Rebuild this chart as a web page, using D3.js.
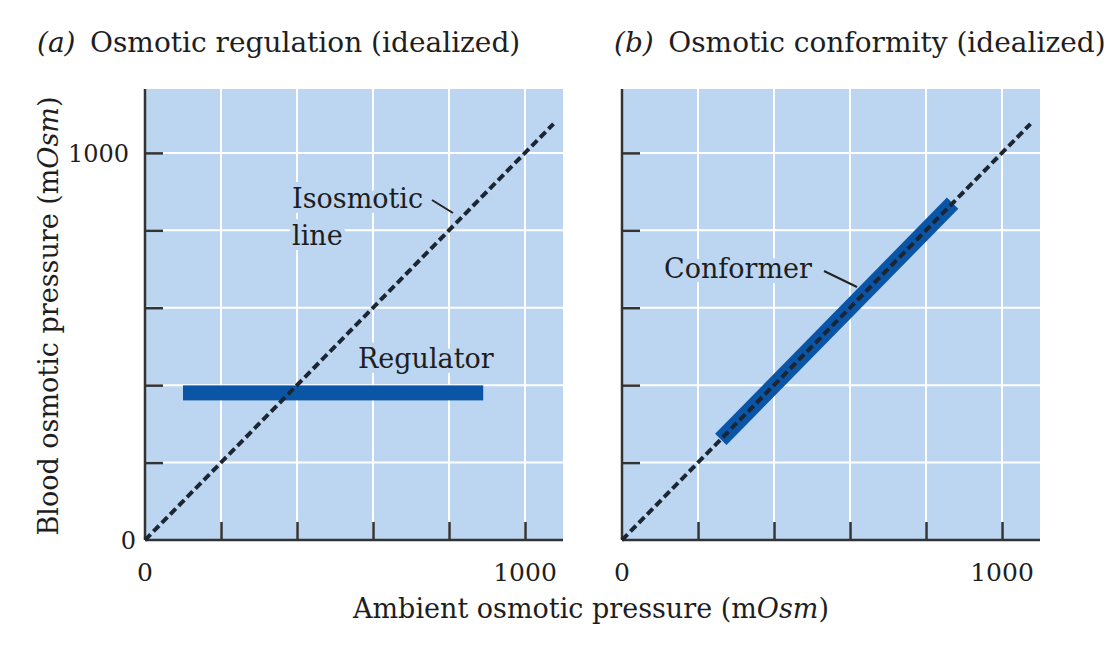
<!DOCTYPE html>
<html lang="en">
<head>
<meta charset="UTF-8">
<title>Osmotic regulation and conformity</title>
<script src="https://d3js.org/d3.v7.min.js"></script>
<style>
    body { margin: 0; background: #fff; }
    svg { display: block; }
    text { font-family: "DejaVu Serif", "Liberation Serif", serif; fill: #1e1e1e; }
</style>
</head>
<body>
<script>
// data
const gridTicks = [200, 400, 600, 800, 1000];
const tickLabels = [0, 1000];
const isosmotic = [[0, 0], [1075, 1075]];
const regulator = { x0: 100, x1: 890, y: 380 };
const conformer = [[260, 260], [870, 870]];
const titles = [["(a)", "Osmotic regulation (idealized)"], ["(b)", "Osmotic conformity (idealized)"]];

const W = 1118, H = 652;
const svg = d3.select("body").append("svg").attr("width", W).attr("height", H);

const bg = "#bcd6f1", barColor = "#0a55a6", dark = "#1c2633";
const panels = [{ left: 145, titleX: 37 }, { left: 622, titleX: 614 }];
const plotTop = 89, plotBottom = 540, pw = 418;

panels.forEach((p, i) => {
    const x = d3.scaleLinear().domain([0, 1100]).range([p.left, p.left + pw]);
    const y = d3.scaleLinear().domain([0, 1165]).range([plotBottom, plotTop]);
    const g = svg.append("g");

    g.append("rect").attr("x", x(0)).attr("y", y(1165))
        .attr("width", pw).attr("height", plotBottom - plotTop).attr("fill", bg);

    // white grid
    g.selectAll(".gx").data(gridTicks).enter().append("line")
        .attr("x1", d => x(d)).attr("x2", d => x(d)).attr("y1", plotTop).attr("y2", plotBottom)
        .attr("stroke", "#fff").attr("stroke-width", 2);
    g.selectAll(".gy").data(gridTicks).enter().append("line")
        .attr("y1", d => y(d)).attr("y2", d => y(d)).attr("x1", p.left).attr("x2", p.left + pw)
        .attr("stroke", "#fff").attr("stroke-width", 2);

    // axes with inward ticks
    const ax = d3.axisBottom(x).tickValues(gridTicks).tickSize(-18).tickFormat("");
    const ay = d3.axisLeft(y).tickValues(gridTicks).tickSize(-18).tickFormat("");
    const gxA = g.append("g").attr("transform", `translate(0,${plotBottom})`).call(ax);
    const gyA = g.append("g").attr("transform", `translate(${p.left},0)`).call(ay);
    [gxA, gyA].forEach(a => {
        a.select(".domain").remove();
        a.selectAll("line").attr("stroke", "#333").attr("stroke-width", 2.5);
    });
    g.append("line").attr("x1", p.left).attr("x2", p.left + pw).attr("y1", plotBottom).attr("y2", plotBottom)
        .attr("stroke", "#333").attr("stroke-width", 2.5);
    g.append("line").attr("x1", p.left).attr("x2", p.left).attr("y1", plotTop).attr("y2", plotBottom)
        .attr("stroke", "#333").attr("stroke-width", 2.5);

    // tick labels
    g.selectAll(".xl").data(tickLabels).enter().append("text")
        .attr("x", d => x(d)).attr("y", 581).attr("text-anchor", "middle")
        .attr("font-size", 25).text(d => d);
    if (i === 0) {
        g.selectAll(".yl").data(tickLabels).enter().append("text")
            .attr("x", d => d === 0 ? p.left - 9 : p.left - 16).attr("y", d => y(d) + 9)
            .attr("text-anchor", "end").attr("font-size", 24).text(d => d);
    }

    // titles
    const t = svg.append("text").attr("x", p.titleX).attr("y", 52).attr("font-size", 28);
    t.append("tspan").attr("font-style", "italic").text(titles[i][0]);
    t.append("tspan").text("\u2009 " + titles[i][1]);

    const line = d3.line().x(d => x(d[0])).y(d => y(d[1]));

    if (i === 0) {
        g.append("rect").attr("x", x(regulator.x0)).attr("width", x(regulator.x1) - x(regulator.x0))
            .attr("y", y(regulator.y) - 7.5).attr("height", 15).attr("fill", barColor);
    } else {
        g.append("path").attr("d", line(conformer)).attr("stroke", barColor)
            .attr("stroke-width", 16).attr("fill", "none");
    }

    g.append("path").attr("d", line(isosmotic)).attr("fill", "none")
        .attr("stroke", dark).attr("stroke-width", 4).attr("stroke-dasharray", "8,4");

    const label = (txt, lx, ly) => g.append("text").attr("x", lx).attr("y", ly)
        .attr("font-size", 27).attr("stroke", bg).attr("stroke-width", 10)
        .attr("stroke-linejoin", "round").attr("paint-order", "stroke").text(txt);

    if (i === 0) {
        label("Isosmotic", 292, 208);
        label("line", 292, 245);
        label("Regulator", 358, 368);
        g.append("line").attr("x1", 432).attr("y1", 200).attr("x2", 453).attr("y2", 213)
            .attr("stroke", "#222").attr("stroke-width", 2);
    } else {
        label("Conformer", 664, 278);
        g.append("line").attr("x1", 824).attr("y1", 271).attr("x2", 857).attr("y2", 287)
            .attr("stroke", "#222").attr("stroke-width", 2);
    }
});

// axis titles
const yt = svg.append("text").attr("transform", "translate(58,316) rotate(-90)")
    .attr("text-anchor", "middle").attr("font-size", 27);
yt.append("tspan").text("Blood osmotic pressure (m");
yt.append("tspan").attr("font-style", "italic").text("Osm");
yt.append("tspan").text(")");

const xt = svg.append("text").attr("x", 591).attr("y", 618)
    .attr("text-anchor", "middle").attr("font-size", 27);
xt.append("tspan").text("Ambient osmotic pressure (m");
xt.append("tspan").attr("font-style", "italic").text("Osm");
xt.append("tspan").text(")");
</script>
</body>
</html>
